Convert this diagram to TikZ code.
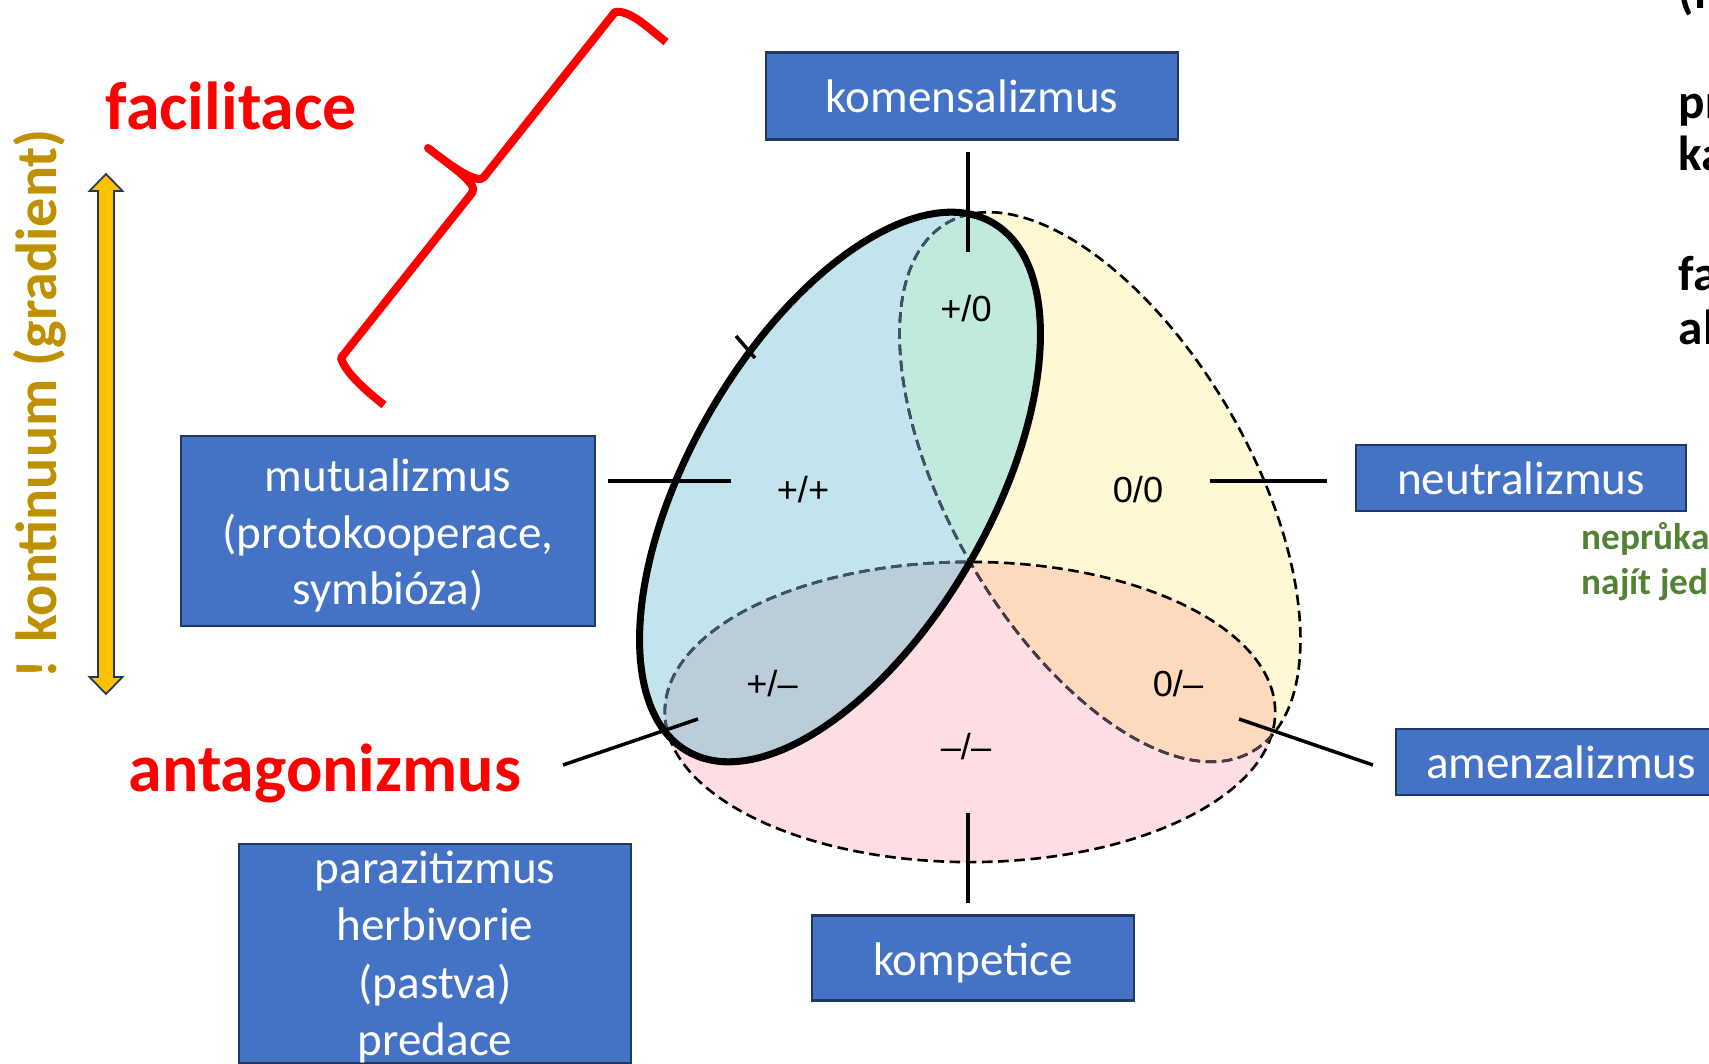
\documentclass[tikz,border=0pt]{standalone}
\usepackage{fontspec}
\setmainfont{Carlito}
\newfontfamily\helvfont{Liberation Sans}
\usetikzlibrary{positioning}
\usetikzlibrary{calc}
\definecolor{boxfill}{HTML}{4472C4}
\definecolor{boxline}{HTML}{203864}
\definecolor{plusfill}{HTML}{C2E4EC}
\definecolor{nullfill}{HTML}{FFF8D5}
\definecolor{minusfill}{HTML}{FEDEE2}
\definecolor{pnfill}{HTML}{C0EADE}
\definecolor{pmfill}{HTML}{BACDD8}
\definecolor{nmfill}{HTML}{FDDABE}
\definecolor{slate}{HTML}{3D5468}
\definecolor{plum}{HTML}{4A3A48}
\definecolor{gold}{HTML}{BF9000}
\definecolor{amber}{HTML}{FFC000}
\definecolor{leaf}{HTML}{548235}
\tikzset{
box/.style={
  rectangle,
  inner sep=0pt,
  align=center,
  draw=boxline,
  line width=0.6pt,
  fill=boxfill,
  text=white,
  font=\fontsize{13.4}{16.3}\selectfont
  },
reg/.style={font=\helvfont\fontsize{10.3}{12}\selectfont},
big/.style={text=red,inner sep=0pt,anchor=base west,font=\bfseries\fontsize{19.3}{23}\selectfont},
cut/.style={inner sep=0pt,anchor=base west,font=\bfseries\fontsize{14}{16}\selectfont},
tick/.style={line width=1pt},
dsh/.style={dash pattern=on 3pt off 1.6pt,line width=0.75pt},
axes/.style={x radius=3.05cm,y radius=1.5cm},
plusrot/.style={rotate around={60:(cPl)}},
nullrot/.style={rotate around={-60:(cNu)}}
}
\begin{document}
\begin{tikzpicture}[x=0.01cm,y=-0.01cm]
    \useasboundingbox (0,0) rectangle (1709,1064);
    \clip (0,0) rectangle (1709,1064);
    \coordinate (mid) at (970,562);
    \coordinate (cPl) at (840,487);
    \coordinate (cNu) at (1100,487);
    \coordinate (cMi) at (970,712);
    % the three ellipses
    \fill[nullfill,nullrot] (cNu) ellipse [axes];
    \fill[minusfill] (cMi) ellipse [axes];
    \fill[plusfill,plusrot] (cPl) ellipse [axes];
    \begin{scope}
      \clip[plusrot] (cPl) ellipse [axes];
      \fill[pnfill,nullrot] (cNu) ellipse [axes];
      \fill[pmfill] (cMi) ellipse [axes];
    \end{scope}
    \begin{scope}
      \clip (cMi) ellipse [axes];
      \fill[nmfill,nullrot] (cNu) ellipse [axes];
    \end{scope}
    \draw[dsh,nullrot] (cNu) ellipse [axes];
    \draw[dsh] (cMi) ellipse [axes];
    \begin{scope}
      \clip[plusrot] (cPl) ellipse [axes];
      \draw[dsh,slate,nullrot] (cNu) ellipse [axes];
      \draw[dsh,slate] (cMi) ellipse [axes];
    \end{scope}
    \begin{scope}
      \clip (cMi) ellipse [axes];
      \draw[dsh,plum,nullrot] (cNu) ellipse [axes];
    \end{scope}
    \draw[line width=2pt,plusrot] (cPl) ellipse [axes];

    \node[reg] (pp) at (803,490) {+/+};
    \node[reg] (pn) at (966,309) {+/0};
    \node[reg] (nn) at (1138,490) {0/0};
    \node[reg] (pm) at (772,684) {+/–};
    \node[reg] (nm) at (1178,684) {0/–};
    \node[reg] (mm) at (966,747) {–/–};

    \node[box,minimum width=4.11cm,minimum height=0.87cm] (komens) at (972,96) {komensalizmus};
    \node[box,minimum width=4.14cm,minimum height=1.89cm,font=\fontsize{13.4}{16.1}\selectfont] (mutual) at (388,531) {\rule{0pt}{12pt}mutualizmus\\(protokooperace,\\symbióza)};
    \node[box,minimum width=3.30cm,minimum height=0.66cm] (neutral) at (1521,478) {neutralizmus};
    \node[box,minimum width=3.29cm,minimum height=0.66cm] (amenz) at (1561,762) {amenzalizmus};
    \node[box,minimum width=3.21cm,minimum height=0.85cm,text height=12.3pt] (kompet) at (973,958) {kompetice};
    \node[box,minimum width=3.91cm,minimum height=2.17cm] (parazit) at (435,953.5) {\rule{0pt}{11.3pt}parazitizmus\\herbivorie\\(pastva)\\predace};

    \coordinate (tTop) at (968,252);
    \coordinate (tBot) at (968,813);
    \coordinate (tLeft) at (731,481);
    \coordinate (tRight) at (1210,481);
    \coordinate (tLL) at (698,719);
    \coordinate (tLR) at (1239,719);
    \coordinate (eLL) at (563,765);
    \coordinate (eLR) at (1373,765);
    \coordinate (nickA) at (736,336);
    \coordinate (nickB) at (755,358);
    \draw[tick,shorten >=0.11cm] (tTop) -- (tTop |- komens.south);
    \draw[tick,shorten >=0.11cm] (tBot) -- (tBot |- kompet.north);
    \draw[tick,shorten >=0.12cm] (tLeft) -- (tLeft -| mutual.east);
    \draw[tick,shorten >=0.28cm] (tRight) -- (tRight -| neutral.west);
    \draw[tick] (tLL) -- (eLL);
    \draw[tick] (tLR) -- (eLR);
    \draw[tick] (nickA) -- (nickB);

    \node[big] (facil) at (105,130) {facilitace};
    \node[big] (antag) at (128,791) {antagonizmus};
    \draw[red,line width=2.3pt,line join=round]
      (666,42) .. controls (646,26) and (630,10) .. (615,12) -- (484,177)
      .. controls (478,185) and (452,167) .. (428,148)
      .. controls (452,167) and (479,184) .. (472,193) -- (341,358)
      .. controls (345,372) and (365,390) .. (384,405);

    \node[rotate=90,inner sep=0pt,text=gold,font=\bfseries\fontsize{16.5}{19}\selectfont] (gradient) at (40,404) {! kontinuum (gradient)};
    \draw[fill=amber,draw=boxline,line width=0.5pt]
      (106,174) -- (122.5,191) -- (114,191) -- (114,677) -- (122.5,677) -- (106,694)
      -- (89.5,677) -- (98,677) -- (98,191) -- (89.5,191) -- cycle;

    \node[cut] (lineN) at (1678,9) {(n};
    \node[cut] (linePr) at (1678,119) {pr};
    \node[cut] (lineKa) at (1678,171) {ka};
    \node[cut] (lineFa) at (1678,291) {fa};
    \node[cut] (lineAl) at (1678,345) {al};
    \node[cut,text=leaf,font=\bfseries\fontsize{10.6}{12.4}\selectfont] (nepr) at (1581,550) {neprůka};
    \node[cut,text=leaf,font=\bfseries\fontsize{10.6}{12.4}\selectfont] (najit) at (1581,594) {najít jed};
\end{tikzpicture}
\end{document}
